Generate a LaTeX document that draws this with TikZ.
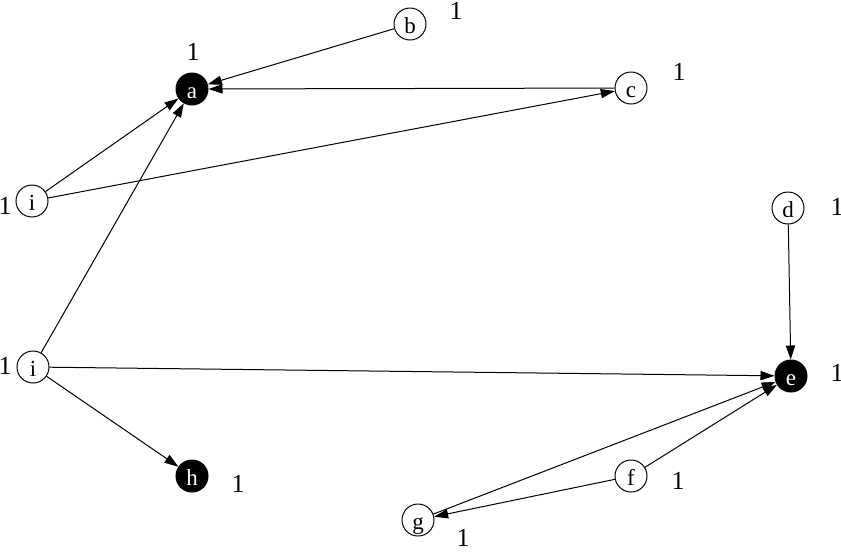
\documentclass[tikz,border=0pt]{standalone}
\usepackage{fontspec}
\setmainfont{Liberation Serif}
\usetikzlibrary{arrows.meta, positioning}

\begin{document}
\begin{tikzpicture}[
  x=0.5pt, y=-0.5pt,
  vertex/.style={circle, draw=black, line width=0.5pt, fill=#1, minimum size=16pt,
    inner sep=0pt, text height=2.1ex, text depth=0pt, font=\fontsize{11.5}{12}\selectfont},
  vertex/.default=white,
  marked/.style={vertex=black, text=white},
  weight/.style={font=\fontsize{13}{13}\selectfont, inner sep=0pt},
  arrow/.style={-{Triangle[length=7pt, width=4.6pt]}, line width=0.5pt}
]
\useasboundingbox (0,0) rectangle (841,553);

% vertices
\node[marked] (a) at (192,89) {a};
\node[vertex] (b) at (410,24) {b};
\node[vertex] (c) at (631,88) {c};
\node[vertex] (i1) at (32,201) {i};
\node[vertex] (i2) at (33,367) {i};
\node[vertex] (d) at (788,208) {d};
\node[marked] (e) at (791,376) {e};
\node[marked] (h) at (192,476) {h};
\node[vertex] (f) at (631,476) {f};
\node[vertex] (g) at (418,520) {g};

% weights
\node[weight] (wa) at (193,52) {1};
\node[weight] (wb) at (456,11) {1};
\node[weight] (wc) at (679,72) {1};
\node[weight] (wi1) at (5,206) {1};
\node[weight] (wi2) at (5,366) {1};
\node[weight] (wd) at (837,207) {1};
\node[weight] (we) at (837,373) {1};
\node[weight] (wh) at (238,484) {1};
\node[weight] (wf) at (678,481) {1};
\node[weight] (wg) at (463,538) {1};

% edges
\draw[arrow] (b) -- (a);
\draw[arrow] (c) -- (a);
\draw[arrow] (i1) -- (a);
\draw[arrow] (i1) -- (c);
\draw[arrow] (i2) -- (a);
\draw[arrow] (i2) -- (e);
\draw[arrow] (i2) -- (h);
\draw[arrow] (d) -- (e);
\draw[arrow] (g) -- (e);
\draw[arrow] (f) -- (e);
\draw[arrow] (f) -- (g);
\end{tikzpicture}
\end{document}
